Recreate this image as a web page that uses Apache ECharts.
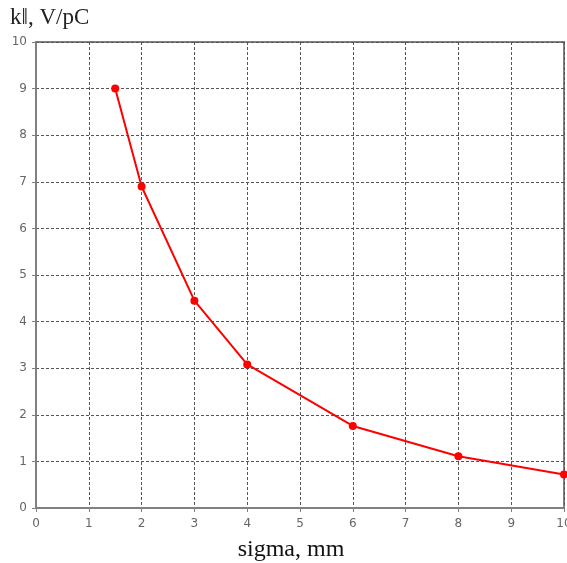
<!DOCTYPE html>
<html><head><meta charset="utf-8">
<script src="https://cdn.jsdelivr.net/npm/echarts@6/dist/echarts.min.js"></script>
<style>html,body{margin:0;padding:0;background:#fff}#c{width:567px;height:563px}</style>
</head><body><div id="c"></div>
<script>
const sigma = [1.5, 2, 3, 4, 6, 8, 10];
const kPar = [9.0, 6.9, 4.45, 3.08, 1.76, 1.11, 0.72];
const xTitle = 'sigma, mm';
const yTitle = 'k\u2016, V/pC';

const chart = echarts.init(document.getElementById('c'), null, {renderer: 'canvas'});
const gridLine = {show: true, lineStyle: {color: '#555', type: [3, 2], width: 1}};
const axisLine = {show: true, lineStyle: {color: '#808080', width: 2}};
chart.setOption({
  animation: false,
  backgroundColor: '#fff',
  title: [
    {text: yTitle, left: 5, top: 1, textStyle: {fontFamily: 'Liberation Serif', fontSize: 23, fontWeight: 'normal', color: '#222'}},
    {text: xTitle, left: 286, textAlign: 'center', top: 533, textStyle: {fontFamily: 'Liberation Serif', fontSize: 24, fontWeight: 'normal', color: '#111'}}
  ],
  grid: {left: 36, right: 3, top: 42, bottom: 55, show: true, borderColor: '#808080', borderWidth: 2, containLabel: false, outerBoundsMode: 'none'},
  xAxis: {
    type: 'value', min: 0, max: 10, interval: 1,
    axisLine: axisLine,
    axisTick: {show: true, length: 4, lineStyle: {color: '#808080', width: 1}},
    axisLabel: {color: '#666', fontFamily: 'DejaVu Sans', fontSize: 12, margin: 10},
    splitLine: gridLine
  },
  yAxis: {
    type: 'value', min: 0, max: 10, interval: 1,
    axisLine: axisLine,
    axisTick: {show: true, length: 4, lineStyle: {color: '#808080', width: 1}},
    axisLabel: {color: '#666', fontFamily: 'DejaVu Sans', fontSize: 12, margin: 9},
    splitLine: gridLine
  },
  series: [{
    type: 'line',
    data: sigma.map((s, i) => [s, kPar[i]]),
    symbol: 'circle', symbolSize: 8,
    lineStyle: {color: '#ff0000', width: 2},
    itemStyle: {color: '#ff0000'},
    clip: false
  }]
});
</script></body></html>
